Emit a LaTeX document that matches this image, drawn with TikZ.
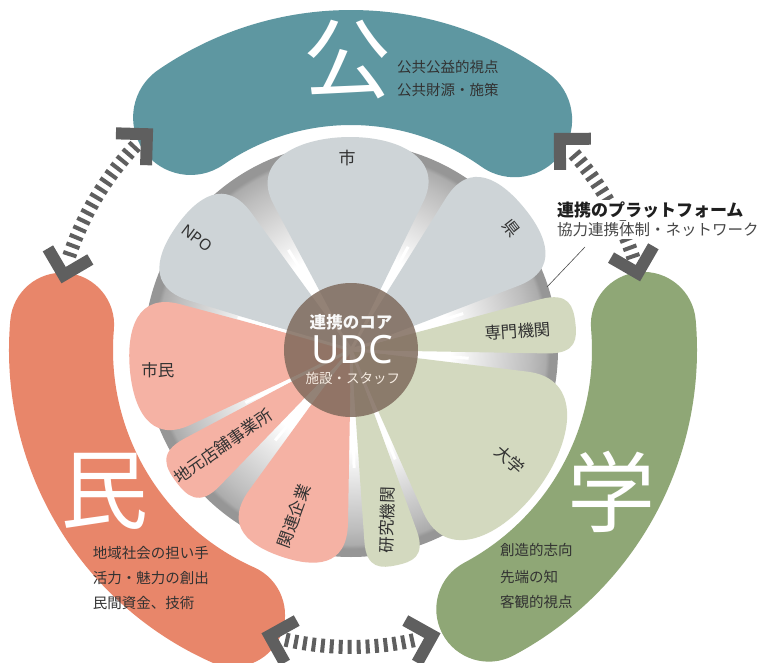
\documentclass[tikz,border=0pt]{standalone}
\usepackage{fontspec}
\setmainfont{Noto Sans CJK JP}
\newfontfamily\latinfont{Noto Sans}
\definecolor{colKou}{RGB}{94,151,161}
\definecolor{colMin}{RGB}{232,134,106}
\definecolor{colGaku}{RGB}{143,167,118}
\definecolor{petGray}{RGB}{206,212,215}
\definecolor{petPink}{RGB}{245,178,164}
\definecolor{petGreen}{RGB}{211,217,191}
\definecolor{arrowGray}{RGB}{95,95,95}
\definecolor{txtGray}{RGB}{50,50,50}
\definecolor{coreBrown}{RGB}{124,103,89}
\definecolor{ringA}{RGB}{150,150,150}
\definecolor{ringB}{RGB}{190,190,190}
\definecolor{ringC}{RGB}{172,172,172}
\pgfdeclareradialshading{ringshade}{\pgfpointorigin}{color(0bp)=(white); color(12bp)=(white); color(21.5bp)=(ringB); color(23.5bp)=(ringC); color(24bp)=(ringA); color(25bp)=(ringA); color(50bp)=(ringA)}
\newcommand\blobshape[5]{%
  \pgfmathsetmacro\bt{(#4-#3)/2}%
  \fill[#5] (#1:#4) arc[start angle=#1, end angle=#2, radius=#4]
    arc[start angle=#2, end angle=#2+180, radius=\bt]
    arc[start angle=#2, end angle=#1, radius=#3]
    arc[start angle=#1+180, end angle=#1+360, radius=\bt] -- cycle;}
\newcommand\petalshape[5]{%
  \pgfmathsetmacro\pc{(#1+#2)/2}%
  \pgfmathsetmacro\ph{(#2-#1)/2}%
  \pgfmathsetmacro\pq{#3/cos(0.5*\ph)}%
  \pgfmathsetmacro\pl{\pc-0.5*\ph}%
  \pgfmathsetmacro\pr{\pc+0.5*\ph}%
  \fill[#5] (0,0) -- (#1:#3-#4) .. controls (#1:#3) and (\pl:\pq) .. (\pc:#3)
    .. controls (\pr:\pq) and (#2:#3) .. (#2:#3-#4) -- cycle;}
\newcommand\chevron[3]{%
  \pgfmathsetmacro\ta{#2+90*#3+180}%
  \pgfmathsetmacro\tb{\ta+45}%
  \pgfmathsetmacro\tc{\ta-45}%
  \coordinate (#1) at (#2:297);
  \draw[chevstyle] (#1) ++(\tb:31) -- (#1) -- ++(\tc:31);}
\tikzset{
  chevstyle/.style={draw=arrowGray, line width=12pt, miter limit=10},
  stripestyle/.style={draw=arrowGray, line width=14pt, dash pattern=on 4pt off 5pt},
  bigchar/.style={font=\fontsize{88}{88}\selectfont, text=white},
  desc/.style={font=\fontsize{14.5}{15}\selectfont, text=txtGray, anchor=west},
  plabel/.style={font=\fontsize{16.5}{17}\selectfont, text=txtGray},
}
\begin{document}
\begin{tikzpicture}[x=1pt,y=1pt, every node/.style={inner sep=0pt, outer sep=0pt}]
\useasboundingbox (-351,-312) rectangle (412,350);
\fill[white] (-351,-312) rectangle (412,350);
% outer blobs
\blobshape{54.6}{124.6}{225}{340}{colKou}
\blobshape{175}{246}{238}{342}{colMin}
\blobshape{-62}{5}{241}{346}{colGaku}
% platform ring
\shade[shading=ringshade] (0,0) circle (207);
% petals
\petalshape{64}{118}{213}{48}{petGray}
\petalshape{126}{163}{214}{45}{petGray}
\petalshape{21}{58}{224}{45}{petGray}
\petalshape{-1}{15}{226}{30}{petGreen}
\petalshape{-66}{-7}{233}{55}{petGreen}
\petalshape{-86}{-70}{220}{28}{petGreen}
\petalshape{-126}{-91}{218}{45}{petPink}
\petalshape{-152}{-134}{219}{30}{petPink}
\petalshape{165}{205}{222}{45}{petPink}
% white rays
\foreach \g in {122,164,206.5,230,271.5,292,-4,18,61}
  \draw[white, line width=3pt] (0,0) -- (\g:118);
% core
\fill[coreBrown, opacity=0.82] (0,0) circle (67);
\node[font=\fontsize{16.5}{17}\selectfont\bfseries, text=white!95!gray] (coreA) at (0,28) {連携のコア};
\node[font=\latinfont\fontsize{39}{40}\selectfont, text=white] (coreB) at (1,0) {UDC};
\node[font=\fontsize{13.5}{14}\selectfont, text=white!85!brown] (coreC) at (2,-28) {施設・スタッフ};
% petal labels
\node[plabel, font=\fontsize{17}{17}\selectfont] (pShi) at (-4,192) {市};
\node[plabel, font=\latinfont\fontsize{15.5}{16}\selectfont, rotate=-37] (pNPO) at (-154,112) {NPO};
\node[plabel, rotate=-52] (pKen) at (160,122) {県};
\node[plabel, rotate=4] (pSenmon) at (167,19) {専門機関};
\node[plabel, rotate=-42] (pDaigaku) at (159,-110) {大学};
\node[plabel, rotate=88] (pKenkyu) at (36,-170) {研究機関};
\node[plabel, rotate=70] (pKanren) at (-57,-166) {関連企業};
\node[plabel, rotate=35] (pJimoto) at (-128,-96) {地元店舗事業所};
\node[plabel] (pShimin) at (-193,-20) {市民};
% big characters
\node[bigchar] (kouC) at (-3,290) {公};
\node[bigchar] (minC) at (-246,-141) {民};
\node[bigchar] (gakuC) at (260,-142) {学};
% descriptions
\node[desc] (kou1) at (46,283) {公共公益的視点};
\node[desc] (kou2) at (46,260) {公共財源・施策};
\node[desc] (min1) at (-258,-203) {地域社会の担い手};
\node[desc] (min2) at (-258,-228) {活力・魅力の創出};
\node[desc] (min3) at (-258,-253) {民間資金、技術};
\node[desc] (gaku1) at (149,-200) {創造的志向};
\node[desc] (gaku2) at (149,-227) {先端の知};
\node[desc] (gaku3) at (149,-252) {客観的視点};
% arrows
\draw[stripestyle] (136.5:297) arc[start angle=136.5, end angle=162.3, radius=297];
\draw[stripestyle] (18:297) arc[start angle=18, end angle=42.2, radius=297];
\draw[stripestyle] (-102.8:297) arc[start angle=-102.8, end angle=-77.2, radius=297];
\chevron{chA1}{133.4}{-1}
\chevron{chA2}{165.4}{1}
\chevron{chB1}{45.3}{1}
\chevron{chB2}{15}{-1}
\chevron{chC1}{-105.9}{-1}
\chevron{chC2}{-74.1}{1}
% platform label
\node[anchor=west, fill=white, inner ysep=2pt, inner xsep=1pt, font=\fontsize{17}{17}\selectfont\bfseries, text=black!88] (platA) at (205,140) {連携のプラットフォーム};
\node[anchor=west, fill=white, inner ysep=2pt, inner xsep=1pt, font=\fontsize{15.5}{16}\selectfont, text=black!72] (platB) at (205,120) {協力連携体制・ネットワーク};
\coordinate (leadA) at (234,103);
\coordinate (leadB) at (196,63);
\draw[black!70, line width=0.6pt] (leadA) -- (leadB);
\end{tikzpicture}
\end{document}
